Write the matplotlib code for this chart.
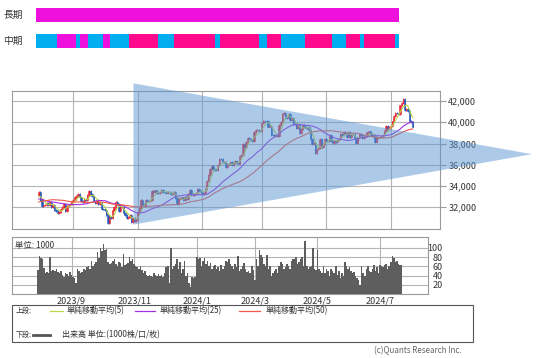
import matplotlib
matplotlib.use("Agg")
import matplotlib.pyplot as plt
import numpy as np
import pandas as pd
from matplotlib.patches import Rectangle, Polygon
from matplotlib.lines import Line2D

plt.rcParams['font.family'] = ['Noto Sans CJK JP', 'DejaVu Sans']

# ---------------- data ----------------
start_date = "2023-08-01"
end_date = "2024-07-22"
jp_holidays = ["2023-08-11", "2023-09-18", "2023-10-09", "2023-11-03", "2023-11-23",
               "2024-01-01", "2024-01-02", "2024-01-03", "2024-01-08", "2024-02-12",
               "2024-02-23", "2024-03-20", "2024-04-29", "2024-05-03", "2024-05-06",
               "2024-07-15"]

# closes before the window (for moving averages)
prior_closes = [31036, 30957, 30801, 30916, 31233, 31328, 30887,
                31148, 31524, 32217, 32506, 31913, 31641, 32265, 32434, 33018, 33502, 33485,
                33706, 33370, 33388, 33575, 33265, 32781, 32698, 32538, 33193, 33234, 33189,
                33753, 33422, 33338, 32773, 32388, 32189, 32203, 31943, 32419, 32391, 32493,
                32896, 32490, 32304, 32700, 32682, 32668, 32891, 32759, 33172]

first_open = 33200
closes = [
    # 2023/8
    33476, 32707, 32159, 32192, 32254, 32377, 32204, 32473, 32059, 32238, 31766, 31626,
    31450, 31565, 31856, 32010, 32287, 31624, 32169, 32227, 32333, 32619,
    # 2023/9
    32710, 32939, 33036, 33241, 32991, 32606, 32467, 32776, 32707, 33168, 33533, 33242,
    33023, 32571, 32402, 32678, 32315, 32371, 31872, 31857,
    # 2023/10
    31759, 31237, 30526, 31075, 30994, 31746, 32040, 32494, 32315, 31659, 32040, 32042,
    31430, 31259, 30999, 31062, 31269, 30601, 30991, 30696, 30859,
    # 2023/11
    31601, 31950, 32708, 32272, 32166, 32646, 32568, 32585, 32696, 33519, 33424, 33585,
    33388, 33354, 33452, 33625, 33447, 33408, 33321, 33486,
    # 2023/12
    33431, 33231, 33231, 33445, 32858, 32307, 32791, 32843, 32926, 32686, 32970, 32758,
    33219, 33675, 33141, 33169, 33255, 33305, 33681, 33539, 33464,
    # 2024/1
    33288, 33377, 33763, 34441, 35049, 35577, 35901, 35619, 35477, 35466, 35963, 36546,
    36517, 36226, 36236, 35751, 36026, 36065, 36286,
    # 2024/2
    36011, 36158, 36354, 36160, 36119, 36863, 36897, 37963, 37703, 38157, 38487, 38470,
    38363, 38262, 39098, 39233, 39239, 39208, 39166,
    # 2024/3
    39910, 40109, 40097, 40090, 39598, 39688, 38820, 38797, 38695, 38807, 38707, 39740,
    40003, 40815, 40888, 40414, 40398, 40762, 40168, 40369,
    # 2024/4
    39803, 39838, 39451, 39773, 38992, 39347, 39773, 39581, 39442, 39523, 39232, 38471,
    37961, 38079, 37068, 37438, 37552, 38460, 37628, 37934, 38405,
    # 2024/5
    38274, 38236, 38835, 38202, 38073, 38229, 38179, 38356, 38385, 38920, 38787, 39069,
    38946, 38617, 39103, 38646, 38900, 38855, 38556, 38054, 38487,
    # 2024/6
    38923, 38837, 38490, 38703, 38683, 39038, 39134, 38876, 38720, 38814, 38102, 38482,
    38570, 38633, 38596, 38804, 39173, 39667, 39341, 39583,
    # 2024/7
    39631, 40074, 40580, 40913, 40912, 40780, 41580, 41831, 42224, 41190, 41275, 41097,
    40126, 40063, 39599,
]

volumes = [
    52, 82, 78, 75, 57, 45, 48, 46, 80, 50, 52, 50, 55, 48, 45, 50, 42, 38, 45, 44,
    40, 48, 42, 38, 36, 25, 55, 50, 45, 48, 55, 52, 58, 60, 55, 72, 60, 65, 70, 90,
    78, 100, 92, 108, 95, 98, 70, 65, 68, 72, 75, 65, 60, 70, 68, 58, 86, 62, 65, 68,
    80, 72, 75, 65, 60, 58, 55, 60, 52, 45, 50, 42, 40, 42, 40, 38, 45, 42, 40, 44,
    40, 42, 38, 45, 58, 60, 25, 100, 55, 60, 65, 75, 55, 70, 45, 55, 72, 40, 45, 25,
    15, 38, 35, 38, 80, 75, 78, 60, 72, 78, 65, 72, 60, 68, 55, 60, 62, 55, 58, 50,
    62, 55, 60, 72, 70, 75, 65, 60, 55, 65, 58, 82, 50, 55, 60, 68, 55, 48, 50, 45,
    60, 52, 30, 75, 60, 95, 85, 80, 65, 60, 85, 55, 60, 40, 45, 50, 55, 45, 60, 70,
    65, 55, 58, 65, 60, 55, 72, 75, 75, 80, 65, 70, 75, 80, 60, 115, 60, 55, 58, 60,
    100, 55, 52, 95, 55, 50, 45, 60, 45, 55, 50, 40, 55, 50, 45, 60, 42, 50, 35, 45,
    40, 70, 60, 55, 58, 50, 45, 48, 40, 35, 30, 20, 60, 45, 40, 55, 60, 50, 48, 55,
    62, 50, 58, 45, 62, 60, 58, 62, 65, 55, 60, 70, 82, 78, 70, 72, 65, 62, 62,
]

# trend bars (長期 / 中期): state per run, run length in trading days
long_states = ["up"]
long_lengths = [239]
mid_states = ["dn", "up", "dn", "up", "dn", "up", "dn", "up2", "dn", "up2", "dn",
              "up2", "dn", "up2", "dn", "up2", "dn", "up2", "dn", "up2", "dn"]
mid_lengths = [14, 12, 3, 5, 10, 5, 12, 19, 11, 27, 3, 26, 5, 9, 16, 18, 9, 9, 3, 20, 3]

# triangle pattern (trading-day index, price)
tri_x = [60.3, 60.3, 314.0]
tri_y = [43660, 30373, 37000]

month_labels = ["2023/9", "2023/11", "2024/1", "2024/3", "2024/5", "2024/7"]
month_keys = ["2023-09", "2023-11", "2024-01", "2024-03", "2024-05", "2024-07"]
price_ticks = [32000, 34000, 36000, 38000, 40000, 42000]
vol_ticks = [20, 40, 60, 80, 100]

ma_periods = [5, 25, 50]
ma_colors = ["#b8d84a", "#a030e0", "#f05848"]
ma_labels = ["単純移動平均(5)", "単純移動平均(25)", "単純移動平均(50)"]

# ---------------- derived ----------------
n = len(closes)
dates = pd.bdate_range(start_date, end_date)
dates = dates[~dates.isin(pd.to_datetime(jp_holidays))][:n]
idx = np.arange(n)
month_str = dates.strftime("%Y-%m")
month_idx = [int(np.argmax(month_str == k)) for k in month_keys]

closes_a = np.array(closes, float)
opens_a = np.concatenate([[first_open], closes_a[:-1]])
full = pd.Series(prior_closes + closes, dtype=float)
mas = [full.rolling(p).mean().values[-n:] for p in ma_periods]

# ---------------- figure ----------------
W, H = 536, 358
fig = plt.figure(figsize=(W / 100, H / 100), dpi=100)


def box(x0, y0, x1, y1):
    return [x0 / W, 1 - y1 / H, (x1 - x0) / W, (y1 - y0) / H]


grid_c = "#b4b4b4"
edge_c = "#9a9a9a"
txt_c = "#333333"

# trend bars
col_map = {"up": "#ee10dd", "up2": "#ff0a8c", "dn": "#00aeef"}
for (y0, y1, states, lengths, label) in [(8, 21.7, long_states, long_lengths, "長期"),
                                         (33.7, 47.7, mid_states, mid_lengths, "中期")]:
    a = fig.add_axes(box(36, y0, 399.3, y1))
    left = np.concatenate([[0], np.cumsum(lengths)[:-1]])
    a.barh([0] * len(lengths), lengths, left=left, height=1.0,
           color=[col_map[s] for s in states], linewidth=0)
    a.set_xlim(0, sum(lengths))
    a.set_ylim(-0.5, 0.5)
    a.axis("off")
    fig.text(3 / W, 1 - (y0 + y1) / 2 / H, label, fontsize=7, color=txt_c,
             ha="left", va="center")

# main price axes
ax = fig.add_axes(box(12, 91, 440, 229))
xlim = (-17.0, 255.4)
ax.set_xlim(*xlim)
ax.set_ylim(29960, 42940)
for s in ax.spines.values():
    s.set_color(edge_c)
    s.set_linewidth(0.8)
ax.set_xticks(month_idx)
ax.set_xticklabels([])
ax.tick_params(axis="x", length=0)
ax.yaxis.tick_right()
ax.set_yticks(price_ticks)
ax.set_yticklabels([f"{v:,}" for v in price_ticks])
ax.tick_params(axis="y", length=4, width=0.8, color=edge_c, pad=2,
               labelsize=6.5, labelcolor=txt_c)
ax.grid(True, color=grid_c, linewidth=0.8)
ax.set_axisbelow(True)

up = closes_a >= opens_a
ccol = np.where(up, "#e82838", "#2858b8")
lo = np.minimum(opens_a, closes_a)
hi = np.maximum(opens_a, closes_a)
ax.vlines(idx, lo - 90, hi + 90, colors=ccol, linewidth=0.6, zorder=3)
ax.bar(idx, hi - lo, bottom=lo, width=0.85, color=ccol, linewidth=0.4,
       edgecolor=ccol, zorder=3)
for m, c in zip(mas, ma_colors):
    ax.plot(idx, m, color=c, linewidth=0.8, zorder=4)

tri = Polygon(np.column_stack([tri_x, tri_y]), closed=True, facecolor="#5b97d2",
              alpha=0.5, edgecolor="none", clip_on=False, zorder=6)
ax.add_patch(tri)

# volume axes
av = fig.add_axes(box(12, 237, 428, 294.3))
av.set_xlim(*xlim)
av.set_ylim(0, 123)
for s in av.spines.values():
    s.set_color(edge_c)
    s.set_linewidth(0.8)
av.bar(idx, volumes, width=1.0, color="#5e5e5e", linewidth=0, zorder=3)
av.set_xticks(month_idx)
av.set_xticklabels(month_labels)
av.tick_params(axis="x", length=0, pad=1.5, labelsize=6.5, labelcolor=txt_c)
av.yaxis.tick_right()
av.set_yticks(vol_ticks)
av.set_yticklabels([str(v) for v in vol_ticks])
av.tick_params(axis="y", length=0, pad=10.5, labelsize=6.5, labelcolor=txt_c)
for lbl in av.get_yticklabels():
    lbl.set_ha("right")
av.grid(True, color=grid_c, linewidth=0.8)
av.set_axisbelow(True)
av.text(0.008, 0.93, "単位: 1000", transform=av.transAxes, fontsize=6,
        color=txt_c, ha="left", va="top", zorder=5)

# legend box
fig.patches.append(Rectangle((12 / W, 1 - 341.7 / H), (473 - 12) / W, (341.7 - 305) / H,
                             transform=fig.transFigure, fill=False,
                             edgecolor="#555555", linewidth=0.8))
ry1 = 1 - 311 / H
ry2 = 1 - 335 / H
fig.text(16 / W, ry1, "上段:", fontsize=5.0, color=txt_c, va="center")
for (x0, x1, xt), c, lab in zip([(50, 63, 67), (135, 155, 160), (239, 260, 266)],
                                ma_colors, ma_labels):
    fig.lines.append(Line2D([x0 / W, x1 / W], [ry1, ry1], transform=fig.transFigure,
                            color=c, linewidth=0.9))
    fig.text(xt / W, ry1, lab, fontsize=5.8, color=txt_c, va="center")
fig.text(16 / W, ry2, "下段:", fontsize=5.0, color=txt_c, va="center")
fig.lines.append(Line2D([33 / W, 50 / W], [ry2, ry2], transform=fig.transFigure,
                        color="#555555", linewidth=2))
fig.text(62 / W, ry2, "出来高 単位:(1000株/口/枚)", fontsize=5.8, color=txt_c, va="center")

fig.text(462 / W, 1 - 351 / H, "(c)Quants Research Inc.", fontsize=5.8,
         color="#666666", ha="right", va="center")

fig.savefig("out.png", dpi=100)
